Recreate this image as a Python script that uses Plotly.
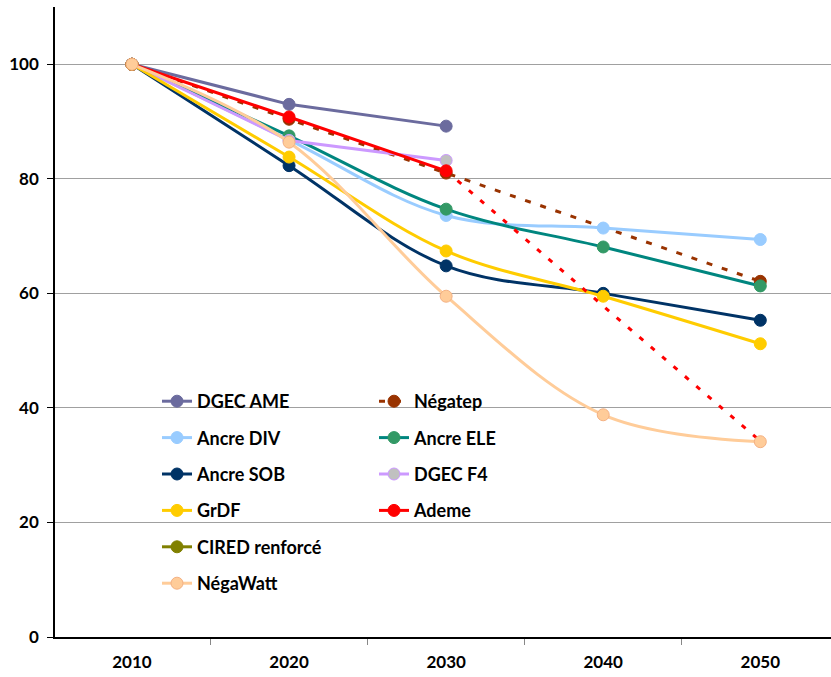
import plotly.graph_objects as go

years = ["2010", "2020", "2030", "2040", "2050"]

dgec_ame = [100, 93.0, 89.2, None, None]
negatep = [100, 90.4, 81.0, None, 62.1]
ancre_div = [100, 86.8, 73.6, 71.4, 69.4]
ancre_ele = [100, 87.5, 74.7, 68.1, 61.3]
ancre_sob = [100, 82.3, 64.8, 60.0, 55.3]
dgec_f4 = [100, 86.7, 83.2, None, None]
grdf = [100, 83.8, 67.4, 59.5, 51.2]
ademe = [100, 90.8, 81.4, None, None]
ademe_proj = [None, None, 81.4, None, 34.2]
cired = [100, None, None, None, None]
negawatt = [100, 86.4, 59.5, 38.8, 34.1]

FONT = "Lato"

fig = go.Figure()

def add(name, y, line_color, marker_color, legend, shape="spline", dash="solid",
        marker_line=None, connect=False):
    fig.add_trace(go.Scatter(
        x=years, y=y, name=name, mode="lines+markers",
        line=dict(color=line_color, width=3, shape=shape, dash=dash),
        marker=dict(color=marker_color, size=12,
                    line=dict(color=marker_line or marker_color, width=1)),
        connectgaps=connect, legend=legend, legendgroup=name,
    ))

add("DGEC AME", dgec_ame, "#6B6B9E", "#6B6B9E", "legend", shape="linear")
add("Négatep", negatep, "#993300", "#993300", "legend2", shape="linear", dash="6px,10px", connect=True)
add("Ancre DIV", ancre_div, "#99CCFF", "#99CCFF", "legend")
add("Ancre ELE", ancre_ele, "#00867F", "#339966", "legend2")
add("Ancre SOB", ancre_sob, "#003366", "#003366", "legend")
add("DGEC F4", dgec_f4, "#CC99FF", "#C0C0C0", "legend2", shape="linear", marker_line="#CC99FF")
add("GrDF", grdf, "#FFCC00", "#FFCC00", "legend")
add("Ademe", ademe, "#FF0000", "#FF0000", "legend2", shape="linear")
fig.add_trace(go.Scatter(
    x=years, y=ademe_proj, mode="lines", showlegend=False, connectgaps=True,
    line=dict(color="#FF0000", width=3, dash="5px,10px"), hoverinfo="skip",
))
add("CIRED renforcé", cired, "#808000", "#808000", "legend")
add("NégaWatt", negawatt, "#FFCC99", "#FFCC99", "legend", marker_line="#F4B183")

# plot area in px: x 55..831, y 7..637
def px_x(p):
    return (p - 55) / 776.0

def px_y(p):
    return (637 - p) / 630.0

legend_font = dict(family=FONT, size=18, color="black", weight="bold")

fig.update_layout(
    width=831, height=677,
    margin=dict(l=55, r=0, t=7, b=40),
    paper_bgcolor="white", plot_bgcolor="white",
    font=dict(family=FONT, size=16, color="black"),
    legend=dict(x=px_x(157), y=px_y(383), xanchor="left", yanchor="top",
                bgcolor="rgba(0,0,0,0)", font=legend_font, tracegroupgap=10,
                traceorder="grouped"),
    legend2=dict(x=px_x(374), y=px_y(383), xanchor="left", yanchor="top",
                 bgcolor="rgba(0,0,0,0)", font=legend_font, tracegroupgap=10,
                 traceorder="grouped"),
    shapes=[dict(type="rect", xref="paper", yref="paper",
                 x0=px_x(130), x1=px_x(560), y0=px_y(600), y1=px_y(382),
                 fillcolor="white", line=dict(width=0), layer="between")],
    showlegend=True,
)

fig.update_xaxes(
    type="category", range=[-0.49, 4.45], automargin=False,
    showline=True, linecolor="black", linewidth=1.5,
    ticks="outside", tickson="boundaries", ticklen=6, tickcolor="#888888",
    tickfont=dict(family=FONT, size=17, color="black", weight="bold"),
    ticklabelstandoff=9, showgrid=False, zeroline=False,
)
fig.update_yaxes(
    range=[0, 110], tickvals=[0, 20, 40, 60, 80, 100], automargin=False,
    showline=True, linecolor="black", linewidth=1.5,
    ticks="outside", ticklen=6, tickcolor="black",
    tickfont=dict(family=FONT, size=17, color="black", weight="bold"),
    ticklabelstandoff=5,
    showgrid=True, gridcolor="#A0A0A0", gridwidth=1, zeroline=False,
)

fig.write_html(
    "out.html",
    config={"displayModeBar": False},
    post_script="document.body.style.margin='0';document.body.style.overflow='hidden';",
)
